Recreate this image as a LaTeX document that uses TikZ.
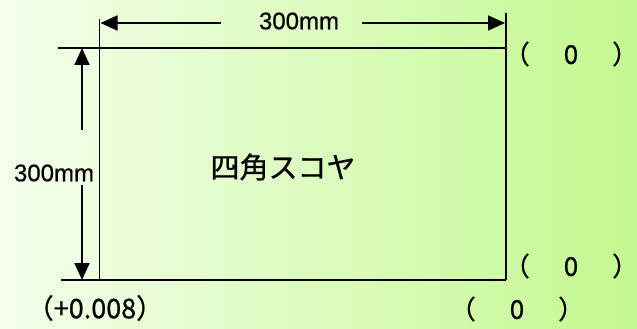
\documentclass[tikz,border=0pt]{standalone}
\usepackage{fontspec}
\setmainfont{Liberation Sans}[RawFeature={embolden=0.6}]
\newfontfamily\jp{Noto Sans CJK JP}[RawFeature={embolden=0.8}]
\usetikzlibrary{arrows.meta}
\definecolor{bgL}{RGB}{244,255,236}
\definecolor{bgR}{RGB}{196,248,144}
\tikzset{
  dimline/.style={line width=1.8pt,-{Triangle[length=17pt,width=15pt]}},
  edge/.style={line width=1.8pt},
  lbl/.style={inner sep=0pt,font=\fontsize{24}{28}\selectfont},
  jplbl/.style={inner sep=0pt,font=\jp\fontsize{26}{30}\selectfont},
}
\newcommand{\zeropar}{（　\hspace{8pt}0\hspace{8pt}　）}
\begin{document}
\begin{tikzpicture}[x=1pt,y=-1pt]
\useasboundingbox (0,0) rectangle (637,329);
\shade[left color=bgL,right color=bgR] (0,0) rectangle (637,329);
% rectangle corners and extension ends
\coordinate (tl) at (99.5,48);
\coordinate (tr) at (506,48);
\coordinate (bl) at (99.5,280);
\coordinate (br) at (506,280);
\coordinate (topext) at (58,48);
\coordinate (botext) at (61,280);
\coordinate (leftext) at (99.5,19);
\coordinate (rightext) at (506,13);
% arrow ends
\coordinate (hL) at (100.5,23);
\coordinate (hLt) at (221,23);
\coordinate (hRt) at (362,23);
\coordinate (hR) at (505,23);
\coordinate (vT) at (82,48);
\coordinate (vTt) at (82,130);
\coordinate (vBt) at (82,185);
\coordinate (vB) at (82,280);
% outline
\draw[edge] (topext) -- (tr);
\draw[edge] (botext) -- (br);
\draw[edge] (leftext) -- (bl);
\draw[edge] (rightext) -- (br);
% dimension arrows
\draw[dimline] (hLt) -- (hL);
\draw[dimline] (hRt) -- (hR);
\draw[dimline] (vTt) -- (vT);
\draw[dimline] (vBt) -- (vB);
% labels
\node[lbl] (wlab) at (299,21) {300mm};
\node[lbl] (hlab) at (54,173) {300mm};
\node[jplbl,font=\jp\fontsize{29}{33}\selectfont] (name) at (283,167) {四角スコヤ};
\node[jplbl] (ptr) at (571,54) {\zeropar};
\node[jplbl] (pbr) at (571,266) {\zeropar};
\node[jplbl] (pb) at (517,309) {\zeropar};
\node[jplbl,font=\jp\fontsize{27}{31}\selectfont] (pbl) at (95,308) {（+0.008）};
\end{tikzpicture}
\end{document}
